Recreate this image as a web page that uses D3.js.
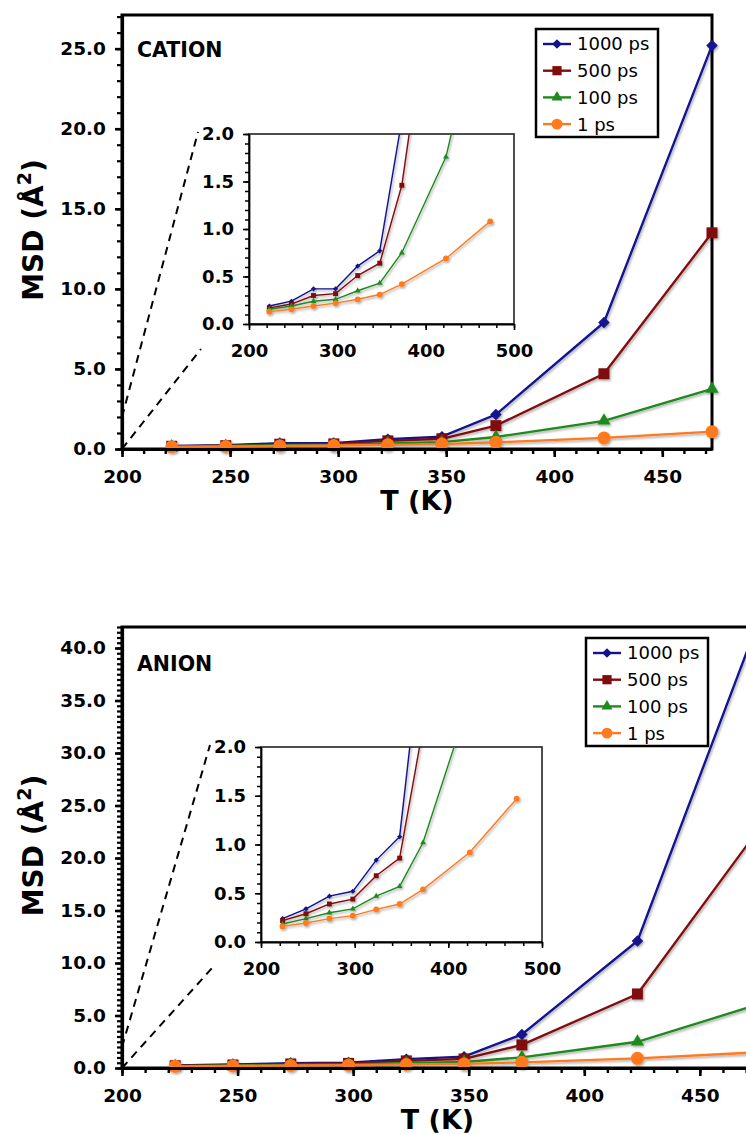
<!DOCTYPE html>
<html>
<head>
<meta charset="utf-8">
<script src="https://cdn.jsdelivr.net/npm/d3@7"></script>
<style>
  body { margin: 0; background: #fff; }
  svg { display: block; font-family: 'DejaVu Sans', Verdana, sans-serif; }
  .axis text {
    font-family: 'DejaVu Sans', Verdana, sans-serif !important;
    font-weight: bold !important;
    fill: #000;
  }
  .axis-main .tick text { font-size: 18.5px !important; }
  .axis-inset .tick text { font-size: 18px !important; }
</style>
</head>
<body>
<svg id="chart" width="746" height="1134"></svg>
<script>
// temperatures (K) shared by every series
const temperatures = [223, 248, 273, 298, 323, 348, 373, 423, 473];
const seriesNames = ['1000 ps', '500 ps', '100 ps', '1 ps'];
const seriesColors = ['#12128c', '#800d0d', '#1f8a1f', '#ff7a1e'];
const seriesShapes = ['diamond', 'square', 'triangle', 'circle'];

// MSD (Å^2), cation
const cation1000 = [0.19, 0.24, 0.37, 0.37, 0.61, 0.77, 2.15, 7.9, 25.2];
const cation500 = [0.17, 0.21, 0.30, 0.32, 0.51, 0.64, 1.46, 4.7, 13.5];
const cation100 = [0.155, 0.19, 0.24, 0.26, 0.35, 0.43, 0.75, 1.76, 3.75];
const cation1 = [0.13, 0.155, 0.19, 0.22, 0.26, 0.31, 0.42, 0.69, 1.08];

// MSD (Å^2), anion
const anion1000 = [0.24, 0.34, 0.47, 0.52, 0.84, 1.08, 3.2, 12.1, 41.2];
const anion500 = [0.22, 0.29, 0.39, 0.44, 0.68, 0.86, 2.2, 7.05, 22.0];
const anion100 = [0.185, 0.24, 0.30, 0.34, 0.47, 0.57, 1.02, 2.5, 5.9];
const anion1 = [0.16, 0.195, 0.24, 0.27, 0.335, 0.39, 0.54, 0.92, 1.47];

// tick labels
const cationYTicks = [0, 5, 10, 15, 20, 25];
const anionYTicks = [0, 5, 10, 15, 20, 25, 30, 35, 40];
const mainXTicks = [200, 250, 300, 350, 400, 450];
const insetYTicks = [0, 0.5, 1.0, 1.5, 2.0];
const insetXTicks = [200, 300, 400, 500];

const svg = d3.select('#chart');

svg.append('defs')
  .append('filter')
  .attr('id', 'shadow')
  .attr('x', '-20%').attr('y', '-20%')
  .attr('width', '140%').attr('height', '140%')
  .append('feDropShadow')
  .attr('dx', 1.2)
  .attr('dy', 1.6)
  .attr('stdDeviation', 0.9)
  .attr('flood-color', '#000')
  .attr('flood-opacity', 0.35);

function markerPath(shape, size) {
  switch (shape) {
    case 'diamond':
      return d3.symbol().type(d3.symbolSquare).size(size * 0.55)();
    case 'square':
      return d3.symbol().type(d3.symbolSquare).size(size)();
    case 'triangle':
      return d3.symbol().type(d3.symbolTriangle).size(size * 0.62)();
    default:
      return d3.symbol().type(d3.symbolCircle).size(size * 1.1)();
  }
}

function markerTransform(shape, px, py) {
  return `translate(${px},${py})${shape === 'diamond' ? ' rotate(45)' : ''}`;
}

class MsdPanel {
  constructor(svgEl, config) {
    this.config = config;
    this.g = svgEl.append('g').attr('class', 'panel');
    const p = config.plot;
    this.x = d3.scaleLinear().domain([200, 473]).range([p.left, p.right]);
    this.y = d3.scaleLinear().domain([0, config.yMax]).range([p.bottom, p.top]);
    const ins = config.inset;
    this.ix = d3.scaleLinear().domain([200, 500]).range([ins.left, ins.right]);
    this.iy = d3.scaleLinear().domain([0, 2]).range([ins.bottom, ins.top]);
    this.series = config.values.map((vals, k) => ({
      name: seriesNames[k],
      color: seriesColors[k],
      shape: seriesShapes[k],
      points: temperatures.map((t, i) => ({ t, v: vals[i], shape: seriesShapes[k] })),
    }));
  }

  static styleAxis(sel, domainWidth, tickWidth) {
    sel.attr('font-family', null).attr('font-size', null);
    sel.select('.domain').attr('stroke', '#000').attr('stroke-width', domainWidth);
    sel.selectAll('.tick line').attr('stroke', '#000').attr('stroke-width', tickWidth);
  }

  drawFrame() {
    const p = this.config.plot;
    this.g.append('rect')
      .attr('x', p.left).attr('y', p.top)
      .attr('width', p.right - p.left).attr('height', p.bottom - p.top)
      .attr('fill', 'none')
      .attr('stroke', '#000')
      .attr('stroke-width', 3);
  }

  drawMainAxes() {
    const p = this.config.plot;
    const yMinor = d3.range(0, this.config.yMax + 1e-6, this.config.yMinorStep);
    const xMinor = d3.range(200, 473, 10);

    this.g.append('g')
      .attr('transform', `translate(${p.left},0)`)
      .call(d3.axisLeft(this.y).tickValues(yMinor).tickSize(5).tickFormat(''))
      .call(s => s.select('.domain').remove())
      .call(s => s.selectAll('line').attr('stroke', '#000').attr('stroke-width', 2.2));

    this.g.append('g')
      .attr('transform', `translate(0,${p.bottom})`)
      .call(d3.axisBottom(this.x).tickValues(xMinor).tickSize(5).tickFormat(''))
      .call(s => s.select('.domain').remove())
      .call(s => s.selectAll('line').attr('stroke', '#000').attr('stroke-width', 2.4));

    this.g.append('g')
      .attr('class', 'axis axis-main')
      .attr('transform', `translate(${p.left},0)`)
      .call(d3.axisLeft(this.y).tickValues(this.config.yTicks).tickSize(7).tickSizeOuter(0)
        .tickPadding(9).tickFormat(d3.format('.1f')))
      .call(s => MsdPanel.styleAxis(s, 3.2, 2.6));

    this.g.append('g')
      .attr('class', 'axis axis-main')
      .attr('transform', `translate(0,${p.bottom})`)
      .call(d3.axisBottom(this.x).tickValues(mainXTicks).tickSize(8).tickSizeOuter(0)
        .tickPadding(13).tickFormat(d3.format('d')))
      .call(s => MsdPanel.styleAxis(s, 3.2, 2.6));

    // axis titles
    this.g.append('text')
      .attr('x', (p.left + p.right) / 2)
      .attr('y', p.bottom + 61)
      .attr('text-anchor', 'middle')
      .style('font-size', '27px')
      .style('font-weight', 'bold')
      .text('T (K)');

    const yt = this.g.append('text')
      .attr('transform', `translate(43,${(p.top + p.bottom) / 2 - 2}) rotate(-90)`)
      .attr('text-anchor', 'middle')
      .style('font-size', '28px')
      .style('font-weight', 'bold');
    yt.append('tspan').text('MSD (Å');
    yt.append('tspan').attr('dy', -12).style('font-size', '19px').text('2');
    yt.append('tspan').attr('dy', 12).text(')');

    this.g.append('text')
      .attr('x', p.left + 15)
      .attr('y', p.top + this.config.labelOffset)
      .style('font-size', '20.5px')
      .style('font-weight', 'bold')
      .text(this.config.label);
  }

  drawZoomGuides() {
    const ins = this.config.inset;
    const guides = [
      { from: [this.x(200), this.y(2)], to: [ins.left - 51, ins.top - 2] },
      { from: [this.x(200), this.y(0)], to: [ins.left - 48, ins.bottom + 25] },
    ];
    this.g.selectAll('line.guide')
      .data(guides)
      .enter()
      .append('line')
      .attr('class', 'guide')
      .attr('x1', d => d.from[0]).attr('y1', d => d.from[1])
      .attr('x2', d => d.to[0]).attr('y2', d => d.to[1])
      .attr('stroke', '#000')
      .attr('stroke-width', 2)
      .attr('stroke-dasharray', '8,6');
  }

  drawMainSeries() {
    const line = d3.line().x(d => this.x(d.t)).y(d => this.y(d.v));
    const groups = this.g.append('g')
      .attr('filter', 'url(#shadow)')
      .selectAll('g.series')
      .data(this.series)
      .enter()
      .append('g')
      .attr('class', 'series');

    groups.append('path')
      .attr('d', d => line(d.points))
      .attr('fill', 'none')
      .attr('stroke', d => d.color)
      .attr('stroke-width', 2.3);

    groups.selectAll('path.marker')
      .data(d => d.points.map(pt => ({ ...pt, color: d.color })))
      .enter()
      .append('path')
      .attr('class', 'marker')
      .attr('d', d => markerPath(d.shape, 120))
      .attr('fill', d => d.color)
      .attr('transform', d => markerTransform(d.shape, this.x(d.t), this.y(d.v)));
  }

  drawInset() {
    const ins = this.config.inset;
    const clipId = `clip-${this.config.label}`;
    this.g.append('clipPath').attr('id', clipId)
      .append('rect')
      .attr('x', ins.left).attr('y', ins.top)
      .attr('width', ins.right - ins.left).attr('height', ins.bottom - ins.top);

    this.g.append('rect')
      .attr('x', ins.left).attr('y', ins.top)
      .attr('width', ins.right - ins.left).attr('height', ins.bottom - ins.top)
      .attr('fill', '#fff')
      .attr('stroke', '#222')
      .attr('stroke-width', 1.6);

    this.g.append('g')
      .attr('transform', `translate(${ins.left},0)`)
      .call(d3.axisLeft(this.iy).tickValues(d3.range(0, 2.001, 0.1)).tickSize(4).tickFormat(''))
      .call(s => s.select('.domain').remove())
      .call(s => s.selectAll('line').attr('stroke', '#000').attr('stroke-width', 1.5));

    this.g.append('g')
      .attr('transform', `translate(0,${ins.bottom})`)
      .call(d3.axisBottom(this.ix).tickValues(d3.range(200, 501, 20)).tickSize(4).tickFormat(''))
      .call(s => s.select('.domain').remove())
      .call(s => s.selectAll('line').attr('stroke', '#000').attr('stroke-width', 1.5));

    this.g.append('g')
      .attr('class', 'axis axis-inset')
      .attr('transform', `translate(${ins.left},0)`)
      .call(d3.axisLeft(this.iy).tickValues(insetYTicks).tickSize(6).tickSizeOuter(0)
        .tickPadding(9).tickFormat(d3.format('.1f')))
      .call(s => MsdPanel.styleAxis(s, 1.8, 1.6));

    this.g.append('g')
      .attr('class', 'axis axis-inset')
      .attr('transform', `translate(0,${ins.bottom})`)
      .call(d3.axisBottom(this.ix).tickValues(insetXTicks).tickSize(6).tickSizeOuter(0)
        .tickPadding(14).tickFormat(d3.format('d')))
      .call(s => MsdPanel.styleAxis(s, 1.8, 1.6));

    const line = d3.line().x(d => this.ix(d.t)).y(d => this.iy(d.v));
    const groups = this.g.append('g')
      .attr('clip-path', `url(#${clipId})`)
      .append('g')
      .attr('filter', 'url(#shadow)')
      .selectAll('g.inset-series')
      .data(this.series)
      .enter()
      .append('g')
      .attr('class', 'inset-series');

    groups.append('path')
      .attr('d', d => line(d.points))
      .attr('fill', 'none')
      .attr('stroke', d => d.color)
      .attr('stroke-width', 1.4);

    groups.selectAll('path.marker')
      .data(d => d.points.map(pt => ({ ...pt, color: d.color })))
      .enter()
      .append('path')
      .attr('class', 'marker')
      .attr('d', d => markerPath(d.shape, 24))
      .attr('fill', d => d.color)
      .attr('transform', d => markerTransform(d.shape, this.ix(d.t), this.iy(d.v)));
  }

  drawLegend() {
    const lg = this.config.legend;
    const legend = this.g.append('g').attr('transform', `translate(${lg.x},${lg.y})`);
    legend.append('rect')
      .attr('width', 122).attr('height', 108)
      .attr('fill', '#fff')
      .attr('stroke', '#000')
      .attr('stroke-width', 2.5);

    const rows = legend.selectAll('g.row')
      .data(this.series)
      .enter()
      .append('g')
      .attr('class', 'row')
      .attr('transform', (d, i) => `translate(0,${15 + i * 26.7})`);

    rows.append('line')
      .attr('x1', 7).attr('x2', 35)
      .attr('stroke', d => d.color)
      .attr('stroke-width', 2.4);
    rows.append('path')
      .attr('d', d => markerPath(d.shape, 85))
      .attr('fill', d => d.color)
      .attr('transform', d => markerTransform(d.shape, 21, 0));
    rows.append('text')
      .attr('x', 41)
      .attr('dy', '0.36em')
      .style('font-size', '18px')
      .text(d => d.name);
  }

  render() {
    this.drawFrame();
    this.drawZoomGuides();
    this.drawMainSeries();
    this.drawMainAxes();
    this.drawInset();
    this.drawLegend();
  }
}

new MsdPanel(svg, {
  label: 'CATION',
  values: [cation1000, cation500, cation100, cation1],
  plot: { left: 122, right: 712, top: 15, bottom: 449 },
  yMax: 27.1,
  yTicks: cationYTicks,
  yMinorStep: 1,
  labelOffset: 42,
  inset: { left: 249, right: 514, top: 134, bottom: 324 },
  legend: { x: 536, y: 29 },
}).render();

new MsdPanel(svg, {
  label: 'ANION',
  values: [anion1000, anion500, anion100, anion1],
  plot: { left: 122, right: 753, top: 627, bottom: 1068 },
  yMax: 42,
  yTicks: anionYTicks,
  yMinorStep: 0.5,
  labelOffset: 44,
  inset: { left: 261, right: 542, top: 747, bottom: 942 },
  legend: { x: 586, y: 638 },
}).render();
</script>
</body>
</html>
